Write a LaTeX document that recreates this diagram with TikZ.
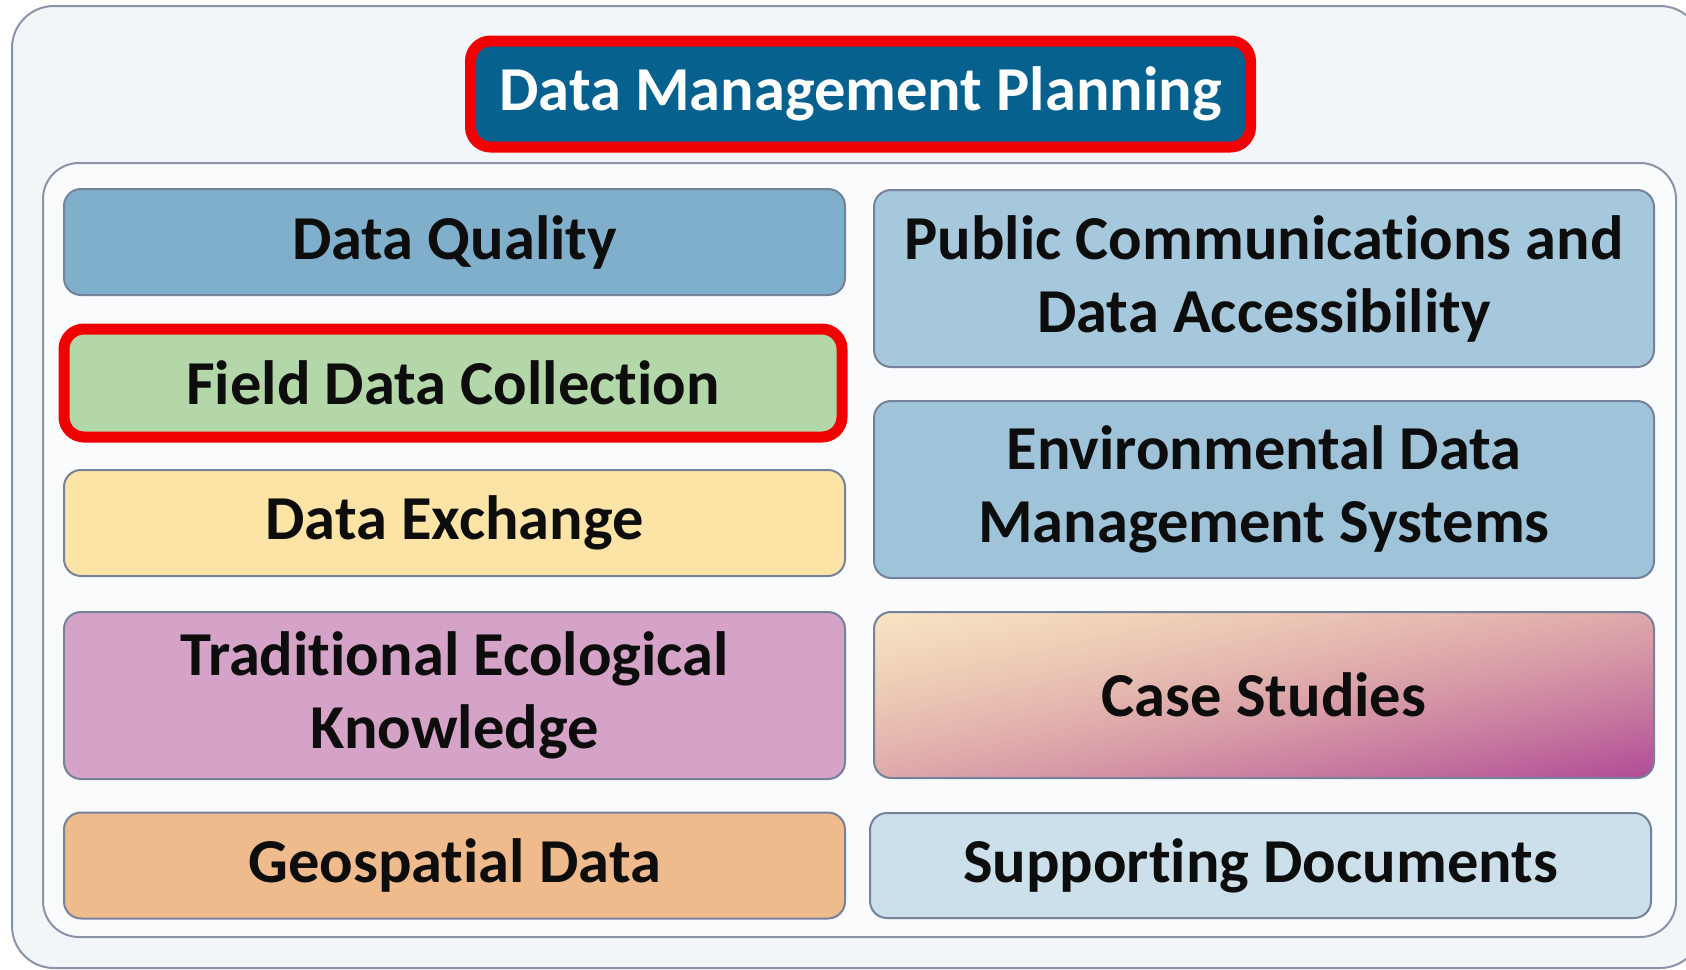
\documentclass[tikz,border=0pt]{standalone}
\usepackage{fontspec}
\setmainfont[Ligatures=NoCommon]{Carlito}
\definecolor{outerbg}{HTML}{F2F6F9}
\definecolor{innerbg}{HTML}{F9FBFD}
\definecolor{frameline}{HTML}{8A93A8}
\definecolor{boxline}{HTML}{76819A}
\definecolor{titleblue}{HTML}{06618F}
\definecolor{redline}{HTML}{F00000}
\definecolor{dqfill}{HTML}{7FAFCB}
\definecolor{pcfill}{HTML}{A6C8DC}
\definecolor{envfill}{HTML}{9FC4DA}
\definecolor{fdfill}{HTML}{B3D7A8}
\definecolor{dxfill}{HTML}{FCE3A6}
\definecolor{tekfill}{HTML}{D5A3C8}
\definecolor{geofill}{HTML}{EFBA8C}
\definecolor{sdfill}{HTML}{CCE0EC}
\definecolor{txt}{HTML}{0D0D0D}
% diagonal gradient: cream (top left) -> pink -> magenta (bottom right)
\pgfdeclarefunctionalshading{caseshade}{\pgfpoint{0bp}{0bp}}{\pgfpoint{100bp}{100bp}}{}{
  sub 50 add 100 div dup dup
  dup -0.150 mul -0.129 add mul 0.969 add
  exch
  dup -0.268 mul -0.336 add mul 0.894 add
  3 -1 roll
  dup 0.038 mul -0.207 add mul 0.761 add
}
\begin{document}
\begin{tikzpicture}[x=1pt,y=-1pt,
  box/.style={draw=boxline, line width=2pt, rounded corners=17pt, inner sep=0pt,
    align=center, text=txt, font=\bfseries\fontsize{62.5}{73}\selectfont},
  redbox/.style={draw=redline, line width=11pt, rounded corners=20pt, inner sep=0pt,
    align=center, font=\bfseries\fontsize{62.5}{73}\selectfont}]
\useasboundingbox (0,0) rectangle (1686,969);
\clip (0,0) rectangle (1686,969);
\fill[white] (0,0) rectangle (1686,969);
% frames
\draw[draw=frameline, line width=2pt, fill=outerbg, rounded corners=42pt] (12,6) rectangle (1702,968);
\draw[draw=frameline, line width=2pt, fill=innerbg, rounded corners=36pt] (43,163) rectangle (1676,937);
% title
\node[redbox, fill=titleblue, text=white, minimum width=780pt, minimum height=106pt] (title) at (860.5,94) {Data Management Planning};
% left column
\node[box, fill=dqfill, minimum width=781pt, minimum height=106pt] (dq) at (454.5,242) {Data Quality};
\node[redbox, fill=fdfill, text=txt, minimum width=778pt, minimum height=108pt] (fd) at (453,383) {Field Data Collection};
\node[box, fill=dxfill, minimum width=781pt, minimum height=106pt] (dx) at (454.5,523) {Data Exchange};
\node[box, fill=tekfill, minimum width=781pt, minimum height=167pt] (tek) at (454.5,695.5) {Traditional Ecological\\Knowledge};
\node[box, fill=geofill, minimum width=781pt, minimum height=106pt] (geo) at (454.5,865.5) {Geospatial Data};
% right column
\node[box, fill=pcfill, minimum width=780pt, minimum height=177pt] (pc) at (1264,278.5) {Public Communications and\\Data Accessibility};
\node[box, fill=envfill, minimum width=780pt, minimum height=177pt] (env) at (1264,489.5) {Environmental Data\\Management Systems};
\node[box, shading=caseshade, minimum width=780pt, minimum height=166pt] (cs) at (1264,695) {Case Studies};
\node[box, fill=sdfill, minimum width=781pt, minimum height=105pt] (sd) at (1260.5,865.5) {Supporting Documents};
\end{tikzpicture}
\end{document}
